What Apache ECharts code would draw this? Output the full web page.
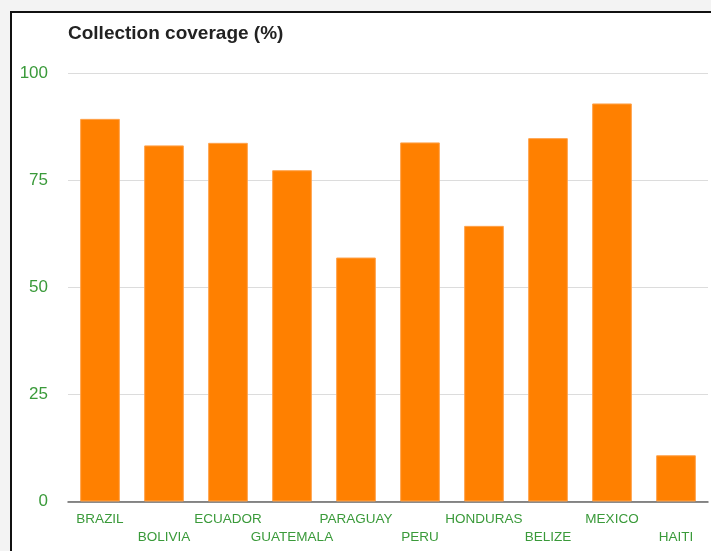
<!DOCTYPE html>
<html lang="en">

<head>
    <meta charset="UTF-8">
    <title>Collection coverage</title>
    <style>
        body { margin: 0; background: #f3f3f3; }
        .frame { position: absolute; left: 10px; top: 11px; width: 720px; height: 560px;
            background: #fff; border-left: 2px solid #111; border-top: 2px solid #111; }
        .show { position: absolute; left: 0; top: 0; width: 711px; height: 551px; }
    </style>
</head>

<body>
    <div class="frame"></div>
    <div class="show"></div>
    <script src="https://cdn.jsdelivr.net/npm/echarts@6/dist/echarts.min.js"></script>
    <script>
        const myChart = echarts.init(document.querySelector('.show'))

        // 国家 / 覆盖率
        let countries = ['BRAZIL', 'BOLIVIA', 'ECUADOR', 'GUATEMALA', 'PARAGUAY', 'PERU', 'HONDURAS', 'BELIZE', 'MEXICO', 'HAITI']
        let coverage = [89.4, 83.2, 83.8, 77.4, 57.0, 83.9, 64.4, 84.9, 93.0, 10.8]
        let yTicks = [0, 25, 50, 75, 100]

        let green = '#3a9a3a'

        let option = {
            backgroundColor: 'transparent',
            animation: false,
            title: {
                text: 'Collection coverage (%)',
                left: 63,
                top: 19,
                textStyle: { fontFamily: 'Liberation Sans', fontSize: 19, fontWeight: 'bold', color: '#222' }
            },
            grid: { left: 68, right: 3, top: 73.5, bottom: 49.5 },
            xAxis: {
                type: 'category',
                data: countries,
                axisTick: { show: false },
                axisLine: { lineStyle: { color: '#666', width: 1.5 } },
                axisLabel: {
                    interval: 0,
                    margin: 9,
                    color: green,
                    fontFamily: 'Liberation Sans',
                    fontSize: 13.5,
                    lineHeight: 18,
                    verticalAlign: 'top',
                    formatter: function (v, i) {
                        return i % 2 ? '\n' + v : v // 交错两行
                    }
                }
            },
            yAxis: {
                type: 'value',
                min: yTicks[0],
                max: yTicks[yTicks.length - 1],
                interval: 25,
                axisLine: { show: false },
                axisTick: { show: false },
                axisLabel: { color: green, fontFamily: 'Liberation Sans', fontSize: 17, margin: 20 },
                splitLine: { lineStyle: { color: '#dcdcdc', width: 1 } }
            },
            series: [{
                type: 'bar',
                data: coverage,
                barWidth: '62%',
                itemStyle: { color: '#ff8000', borderColor: '#ffa24a', borderWidth: 1 }
            }]
        };

        myChart.setOption(option)
    </script>
</body>

</html>
